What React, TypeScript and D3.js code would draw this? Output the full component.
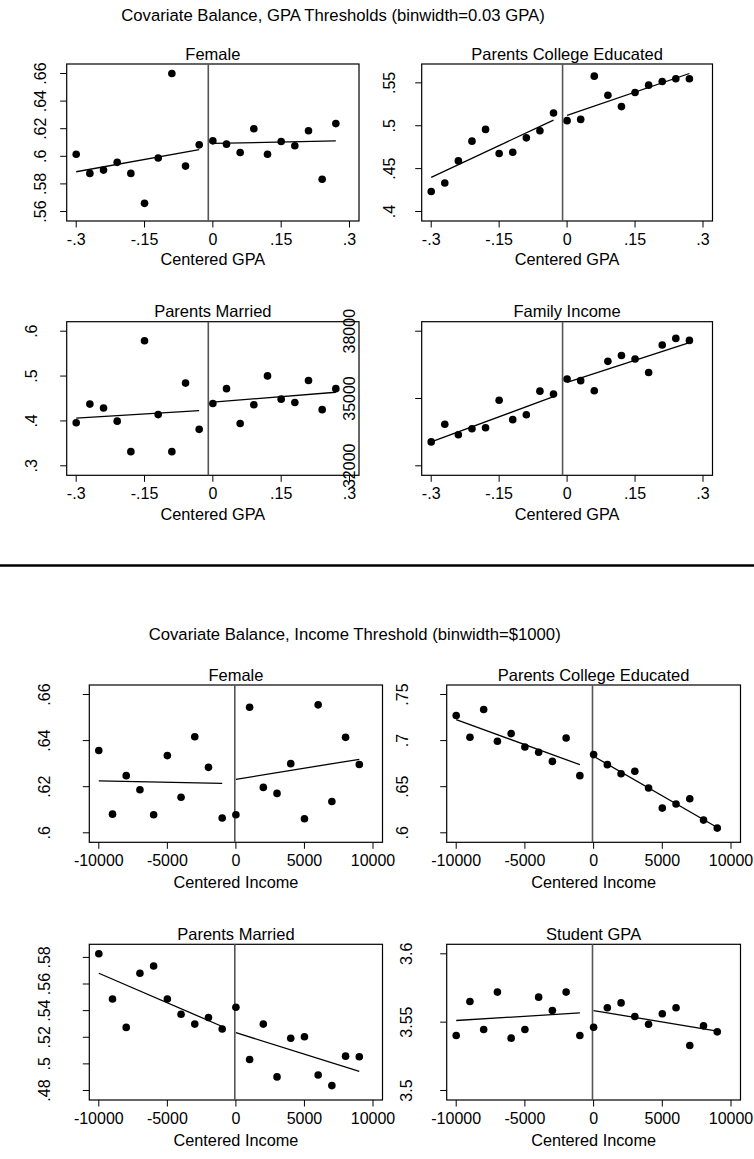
import React from 'react';
import * as d3 from 'd3';

// ---------- data ----------
const gpaBinsLeft = [-0.3, -0.27, -0.24, -0.21, -0.18, -0.15, -0.12, -0.09, -0.06, -0.03];
const gpaBinsRight = [0, 0.03, 0.06, 0.09, 0.12, 0.15, 0.18, 0.21, 0.24, 0.27];
const incomeBinsLeft = [-10000, -9000, -8000, -7000, -6000, -5000, -4000, -3000, -2000, -1000];
const incomeBinsRight = [0, 1000, 2000, 3000, 4000, 5000, 6000, 7000, 8000, 9000];

const gpaXTicks = [-0.3, -0.15, 0, 0.15, 0.3];
const incomeXTicks = [-10000, -5000, 0, 5000, 10000];

const gpaCutoff = -0.01;
const incomeCutoff = -80;

// GPA threshold panels
const gpaFemale = [0.6015, 0.5876, 0.59, 0.5956, 0.5876, 0.5659, 0.5988, 0.66, 0.5929, 0.6083,
  0.6112, 0.6088, 0.6027, 0.62, 0.6015, 0.6107, 0.6076, 0.6185, 0.5834, 0.6237];
const gpaFemaleFit = [0.5888, 0.6049, 0.6093, 0.6112];
const gpaFemaleTicks = [0.56, 0.58, 0.6, 0.62, 0.64, 0.66];

const gpaCollege = [0.4234, 0.4332, 0.459, 0.482, 0.4957, 0.4676, 0.4691, 0.4859, 0.4941, 0.5148,
  0.5059, 0.5074, 0.5578, 0.5355, 0.5223, 0.5387, 0.5473, 0.5516, 0.5547, 0.5547];
const gpaCollegeFit = [0.4398, 0.5066, 0.5121, 0.5609];
const gpaCollegeTicks = [0.4, 0.45, 0.5, 0.55];

const gpaMarried = [0.3958, 0.4375, 0.4287, 0.3995, 0.3315, 0.5787, 0.4141, 0.3315, 0.4843, 0.3812,
  0.439, 0.4719, 0.3944, 0.4361, 0.5004, 0.4485, 0.4412, 0.4902, 0.4251, 0.4719];
const gpaMarriedFit = [0.4061, 0.4229, 0.4419, 0.4639];
const gpaMarriedTicks = [0.3, 0.4, 0.5, 0.6];

const gpaIncome = [33066, 33854, 33387, 33650, 33693, 34920, 34058, 34277, 35328, 35197,
  35869, 35796, 35343, 36657, 36920, 36759, 36161, 37387, 37679, 37591];
const gpaIncomeFit = [33066, 35080, 35723, 37489];
const gpaIncomeTicks = [32000, 35000, 38000];

// Income threshold panels
const incFemale = [0.6357, 0.6081, 0.6248, 0.6187, 0.6078, 0.6335, 0.6154, 0.6417, 0.6284, 0.6064,
  0.6078, 0.6545, 0.6197, 0.6171, 0.63, 0.6061, 0.6555, 0.6136, 0.6414, 0.6296];
const incFemaleFit = [0.6225, 0.6214, 0.6232, 0.6319];
const incFemaleTicks = [0.6, 0.62, 0.64, 0.66];

const incCollege = [0.7272, 0.7036, 0.7337, 0.6993, 0.7076, 0.6931, 0.6873, 0.6775, 0.7029, 0.662,
  0.6848, 0.6739, 0.6641, 0.6667, 0.6486, 0.6268, 0.6312, 0.637, 0.6138, 0.6051];
const incCollegeFit = [0.7228, 0.6739, 0.683, 0.6058];
const incCollegeTicks = [0.6, 0.65, 0.7, 0.75];

const incMarried = [0.5827, 0.5487, 0.5274, 0.5681, 0.5735, 0.5487, 0.5373, 0.5299, 0.5348, 0.5262,
  0.5425, 0.5033, 0.5299, 0.4902, 0.5192, 0.5204, 0.4917, 0.4837, 0.5058, 0.5053];
const incMarriedFit = [0.5681, 0.5281, 0.5234, 0.4944];
const incMarriedTicks = [0.48, 0.5, 0.52, 0.54, 0.56, 0.58];

const incGPA = [3.5402, 3.5651, 3.5446, 3.572, 3.5383, 3.5446, 3.5683, 3.5585, 3.572, 3.5402,
  3.5463, 3.5605, 3.5641, 3.5541, 3.5485, 3.5561, 3.5605, 3.5329, 3.5473, 3.5429];
const incGPAFit = [3.5512, 3.5568, 3.5585, 3.5434];
const incGPATicks = [3.5, 3.55, 3.6];

const mainTitles = [
  'Covariate Balance, GPA Thresholds (binwidth=0.03 GPA)',
  'Covariate Balance, Income Threshold (binwidth=$1000)',
];

type PanelSpec = {
  title: string;
  kind: 'gpa' | 'income';
  values: number[];
  fit: number[];
  yTicks: number[];
};

const panels: PanelSpec[] = [
  { title: 'Female', kind: 'gpa', values: gpaFemale, fit: gpaFemaleFit, yTicks: gpaFemaleTicks },
  { title: 'Parents College Educated', kind: 'gpa', values: gpaCollege, fit: gpaCollegeFit, yTicks: gpaCollegeTicks },
  { title: 'Parents Married', kind: 'gpa', values: gpaMarried, fit: gpaMarriedFit, yTicks: gpaMarriedTicks },
  { title: 'Family Income', kind: 'gpa', values: gpaIncome, fit: gpaIncomeFit, yTicks: gpaIncomeTicks },
  { title: 'Female', kind: 'income', values: incFemale, fit: incFemaleFit, yTicks: incFemaleTicks },
  { title: 'Parents College Educated', kind: 'income', values: incCollege, fit: incCollegeFit, yTicks: incCollegeTicks },
  { title: 'Parents Married', kind: 'income', values: incMarried, fit: incMarriedFit, yTicks: incMarriedTicks },
  { title: 'Student GPA', kind: 'income', values: incGPA, fit: incGPAFit, yTicks: incGPATicks },
];

// ---------- layout ----------
const W = 754;
const H = 1159;
const FONT = '"Liberation Sans", Arial, Helvetica, sans-serif';
const layout = [
  { x0: 66.7, x1: 359, y0: 64, y1: 221, labX: 45.5, titleOff: 43.5 },
  { x0: 421.7, x1: 712.5, y0: 64, y1: 221, labX: 395, titleOff: 43.5 },
  { x0: 66.7, x1: 359, y0: 321.7, y1: 475.3, labX: 37.3, titleOff: 44.5 },
  { x0: 421.7, x1: 712.5, y0: 321.7, y1: 475.3, labX: 355, titleOff: 44.5 },
  { x0: 89.3, x1: 382.5, y0: 685, y1: 842.3, labX: 50, titleOff: 46 },
  { x0: 446.7, x1: 740.5, y0: 685, y1: 842.3, labX: 408, titleOff: 46 },
  { x0: 89.3, x1: 382.5, y0: 944.3, y1: 1100, labX: 50, titleOff: 46 },
  { x0: 446.7, x1: 740.5, y0: 944.3, y1: 1100, labX: 411.7, titleOff: 46 },
];
const PAD = 9.5;
const TICK = 6.5;

const fmt = (v: number) => {
  const s = String(+v.toFixed(4));
  return s.replace(/^0\./, '.').replace(/^-0\./, '-.');
};

function Panel({ spec, box }: { spec: PanelSpec; box: typeof layout[number] }) {
  const isGpa = spec.kind === 'gpa';
  const binsL = isGpa ? gpaBinsLeft : incomeBinsLeft;
  const binsR = isGpa ? gpaBinsRight : incomeBinsRight;
  const bins = binsL.concat(binsR);
  const xTicks = isGpa ? gpaXTicks : incomeXTicks;
  const cutoff = isGpa ? gpaCutoff : incomeCutoff;

  const x = d3.scaleLinear()
    .domain([xTicks[0], xTicks[xTicks.length - 1]])
    .range([box.x0 + PAD, box.x1 - PAD]);

  const allY = spec.values.concat(spec.fit, spec.yTicks);
  const y = d3.scaleLinear()
    .domain([d3.min(allY) as number, d3.max(allY) as number])
    .range([box.y1 - PAD, box.y0 + PAD]);

  const line = d3.line<[number, number]>().x((d) => x(d[0])).y((d) => y(d[1]));
  const fitL: [number, number][] = [[binsL[0], spec.fit[0]], [binsL[binsL.length - 1], spec.fit[1]]];
  const fitR: [number, number][] = [[binsR[0], spec.fit[2]], [binsR[binsR.length - 1], spec.fit[3]]];

  const cx = (box.x0 + box.x1) / 2;
  const xTitle = isGpa ? 'Centered GPA' : 'Centered Income';

  return (
    <g>
      <text x={cx} y={box.y0 - 4.5} textAnchor="middle" fontSize={16.5} fontFamily={FONT} fill="#000">
        {spec.title}
      </text>
      <rect x={box.x0} y={box.y0} width={box.x1 - box.x0} height={box.y1 - box.y0}
        fill="#fff" stroke="#000" strokeWidth={1.2} />
      <line x1={x(cutoff)} x2={x(cutoff)} y1={box.y0} y2={box.y1} stroke="#555" strokeWidth={1.6} />
      <path d={line(fitL) || ''} stroke="#000" strokeWidth={1.3} fill="none" />
      <path d={line(fitR) || ''} stroke="#000" strokeWidth={1.3} fill="none" />
      {spec.values.map((v, i) => (
        <circle key={i} cx={x(bins[i])} cy={y(v)} r={3.8} fill="#000" />
      ))}
      {/* x axis */}
      {xTicks.map((t) => (
        <g key={'x' + t}>
          <line x1={x(t)} x2={x(t)} y1={box.y1} y2={box.y1 + TICK} stroke="#000" strokeWidth={1} />
          <text x={x(t)} y={box.y1 + 24} textAnchor="middle" fontSize={16} fontFamily={FONT} fill="#000">
            {fmt(t)}
          </text>
        </g>
      ))}
      <text x={x(0) - (isGpa ? 0 : 0)} y={box.y1 + box.titleOff} textAnchor="middle" fontSize={16.3}
        fontFamily={FONT} fill="#000">
        {xTitle}
      </text>
      {/* y axis */}
      {spec.yTicks.map((t) => (
        <g key={'y' + t}>
          <line x1={box.x0 - TICK} x2={box.x0} y1={y(t)} y2={y(t)} stroke="#000" strokeWidth={1} />
          <text transform={`translate(${box.labX},${y(t)}) rotate(-90)`} textAnchor="middle" fontSize={16}
            fontFamily={FONT} fill="#000">
            {fmt(t)}
          </text>
        </g>
      ))}
    </g>
  );
}

export default function App() {
  return (
    <svg width={W} height={H} viewBox={`0 0 ${W} ${H}`}
      style={{ position: 'absolute', left: 0, top: 0, background: '#fff' }}>
      <rect x={0} y={0} width={W} height={H} fill="#fff" />
      <text x={333} y={21} textAnchor="middle" fontSize={16.7} fontFamily={FONT} fill="#000">
        {mainTitles[0]}
      </text>
      <line x1={0} x2={W} y1={565.5} y2={565.5} stroke="#000" strokeWidth={2.5} />
      <text x={354.7} y={640} textAnchor="middle" fontSize={16.7} fontFamily={FONT} fill="#000">
        {mainTitles[1]}
      </text>
      {panels.map((p, i) => (
        <Panel key={i} spec={p} box={layout[i]} />
      ))}
    </svg>
  );
}
